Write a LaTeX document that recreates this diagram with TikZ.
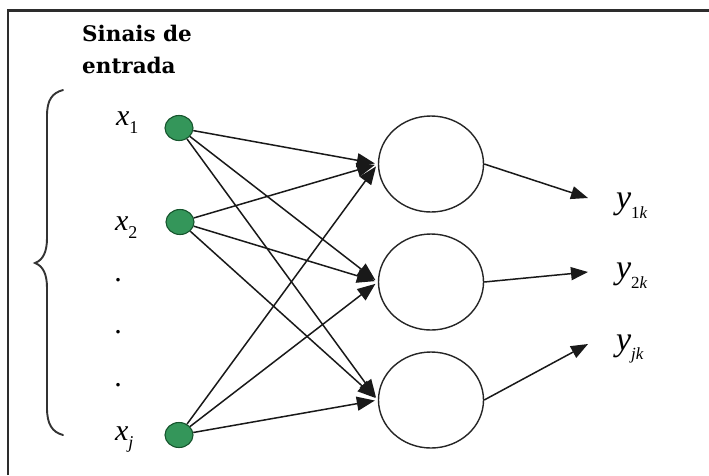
\documentclass[tikz,border=0pt]{standalone}
\usepackage{fontspec}
\setmainfont{Liberation Serif}
\newfontfamily\headfont{DejaVu Serif}
\usetikzlibrary{arrows.meta,shapes.geometric}
\definecolor{inputfill}{RGB}{52,150,90}
\definecolor{inputedge}{RGB}{22,85,45}
\definecolor{framegray}{RGB}{45,45,45}
\begin{document}
\begin{tikzpicture}[x=1pt,y=-1pt,
  inputnode/.style={ellipse,fill=inputfill,draw=inputedge,line width=1.1pt,
    minimum width=28pt,minimum height=25pt,inner sep=0pt},
  neuron/.style={ellipse,draw=black!85,line width=1.4pt,
    minimum width=105pt,minimum height=96pt,inner sep=0pt},
  link/.style={line width=1.5pt,black!90,
    -{Triangle[length=18pt,width=14pt]},shorten >=3pt},
  outlink/.style={line width=1.5pt,black!90,
    -{Triangle[length=17pt,width=13pt]}},
  varlabel/.style={anchor=base west,inner sep=0pt,outer sep=0pt},
  dotlabel/.style={inner sep=0pt,font=\fontsize{30}{30}\selectfont}
]
\useasboundingbox (0,0) rectangle (709,475);
\fill[white] (0,0) rectangle (709,475);

% frame
\draw[framegray,line width=2.6pt] (8,475) -- (8,10.5) -- (709,10.5);

% heading
\node[anchor=north west,inner sep=0pt,align=left,
  font=\headfont\bfseries\fontsize{21.5}{32}\selectfont] (head) at (82,25)
  {Sinais de\\entrada};

% brace grouping the inputs
\draw[black!80,line width=1.9pt,line cap=round]
  (63,90) .. controls (52,93) and (47,100) .. (47,116)
  -- (47,238) .. controls (47,252) and (43,260) .. (35,263)
  .. controls (43,266) and (47,274) .. (47,288)
  -- (47,408) .. controls (47,424) and (52,432) .. (63,435);

% input labels
\node[varlabel] (lx1) at (116,125)
  {{\fontsize{30}{30}\selectfont\itshape x}\raisebox{-8pt}{\fontsize{18}{18}\selectfont 1}};
\node[varlabel] (lx2) at (115,230)
  {{\fontsize{30}{30}\selectfont\itshape x}\raisebox{-8pt}{\fontsize{18}{18}\selectfont 2}};
\node[varlabel] (lxj) at (115,440)
  {{\fontsize{30}{30}\selectfont\itshape x}\raisebox{-8pt}{\fontsize{18}{18}\selectfont\itshape j}};
\node[dotlabel] (d1) at (118,280) {.};
\node[dotlabel] (d2) at (118,332) {.};
\node[dotlabel] (d3) at (118,385) {.};

% input nodes
\node[inputnode] (g1) at (179,128) {};
\node[inputnode] (g2) at (180,222) {};
\node[inputnode] (gj) at (179,435) {};

% neurons
\node[neuron] (n1) at (431,164) {};
\node[neuron] (n2) at (431,282) {};
\node[neuron] (n3) at (431,400) {};

% fully connected inputs
\foreach \g in {g1,g2,gj}{
  \foreach \n in {n1,n2,n3}{
    \draw[link] (\g) -- (\n.west);
  }
}

% outputs
\coordinate (o1) at (588,198);
\coordinate (o2) at (588,272);
\coordinate (o3) at (588,344);
\draw[outlink] (n1.east) -- (o1);
\draw[outlink] (n2.east) -- (o2);
\draw[outlink] (n3.east) -- (o3);

\node[varlabel] (y1) at (616,208)
  {{\fontsize{34}{34}\selectfont\itshape y}\raisebox{-10pt}{\fontsize{17}{17}\selectfont 1\itshape k}};
\node[varlabel] (y2) at (616,278)
  {{\fontsize{34}{34}\selectfont\itshape y}\raisebox{-10pt}{\fontsize{17}{17}\selectfont 2\itshape k}};
\node[varlabel] (yj) at (616,350)
  {{\fontsize{34}{34}\selectfont\itshape y}\raisebox{-9pt}{\fontsize{17}{17}\selectfont\itshape jk}};
\end{tikzpicture}
\end{document}
